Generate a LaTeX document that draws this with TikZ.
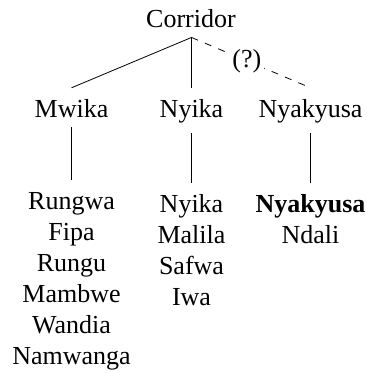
\documentclass[tikz,border=0pt]{standalone}
\usepackage{fontspec}
\setmainfont{Liberation Serif}
\begin{document}
\begin{tikzpicture}[x=1pt,y=-1pt,
  every node/.style={font=\fontsize{26}{31}\selectfont, inner xsep=0pt, anchor=base},
  lbl/.style={text height=19pt, inner ysep=10pt},
  item/.style={inner sep=0pt},
  conn/.style={line width=0.8pt},
  dashconn/.style={line width=0.8pt, dash pattern=on 7pt off 7.5pt}]
\useasboundingbox (0,0) rectangle (367,373);
% top
\node[lbl] (corr) at (191,27) {Corridor};
% second level
\node[lbl] (mwika) at (71.5,117) {Mwika};
\node[lbl] (nyika) at (191.5,117) {Nyika};
\node[lbl] (nyak) at (310.5,117) {Nyakyusa};
% list 1
\node[lbl] (l1a) at (71.5,209) {Rungwa};
\node[item] (l1b) at (71.5,240) {Fipa};
\node[item] (l1c) at (71.5,271) {Rungu};
\node[item] (l1d) at (71.5,302) {Mambwe};
\node[item] (l1e) at (71.5,333) {Wandia};
\node[item] (l1f) at (71.5,364) {Namwanga};
% list 2
\node[lbl] (l2a) at (191.5,212) {Nyika};
\node[item] (l2b) at (191.5,243) {Malila};
\node[item] (l2c) at (191.5,274) {Safwa};
\node[item] (l2d) at (191.5,305) {Iwa};
% list 3
\node[lbl] (l3a) at (310.5,212) {\textbf{Nyakyusa}};
\node[item] (l3b) at (310.5,243) {Ndali};
% connectors
\draw[conn] (corr.south -| nyika.north) -- (mwika.north);
\draw[conn] (corr.south -| nyika.north) -- (nyika.north);
\draw[dashconn] (corr.south -| nyika.north) -- node[pos=0.465, anchor=center, fill=white, inner xsep=3pt, inner ysep=2pt] (q) {(?)} (nyak.north);
\draw[conn] (mwika.south) -- (l1a.north);
\draw[conn] (nyika.south) -- (l2a.north);
\draw[conn] (nyak.south) -- (l3a.north);
\end{tikzpicture}
\end{document}
